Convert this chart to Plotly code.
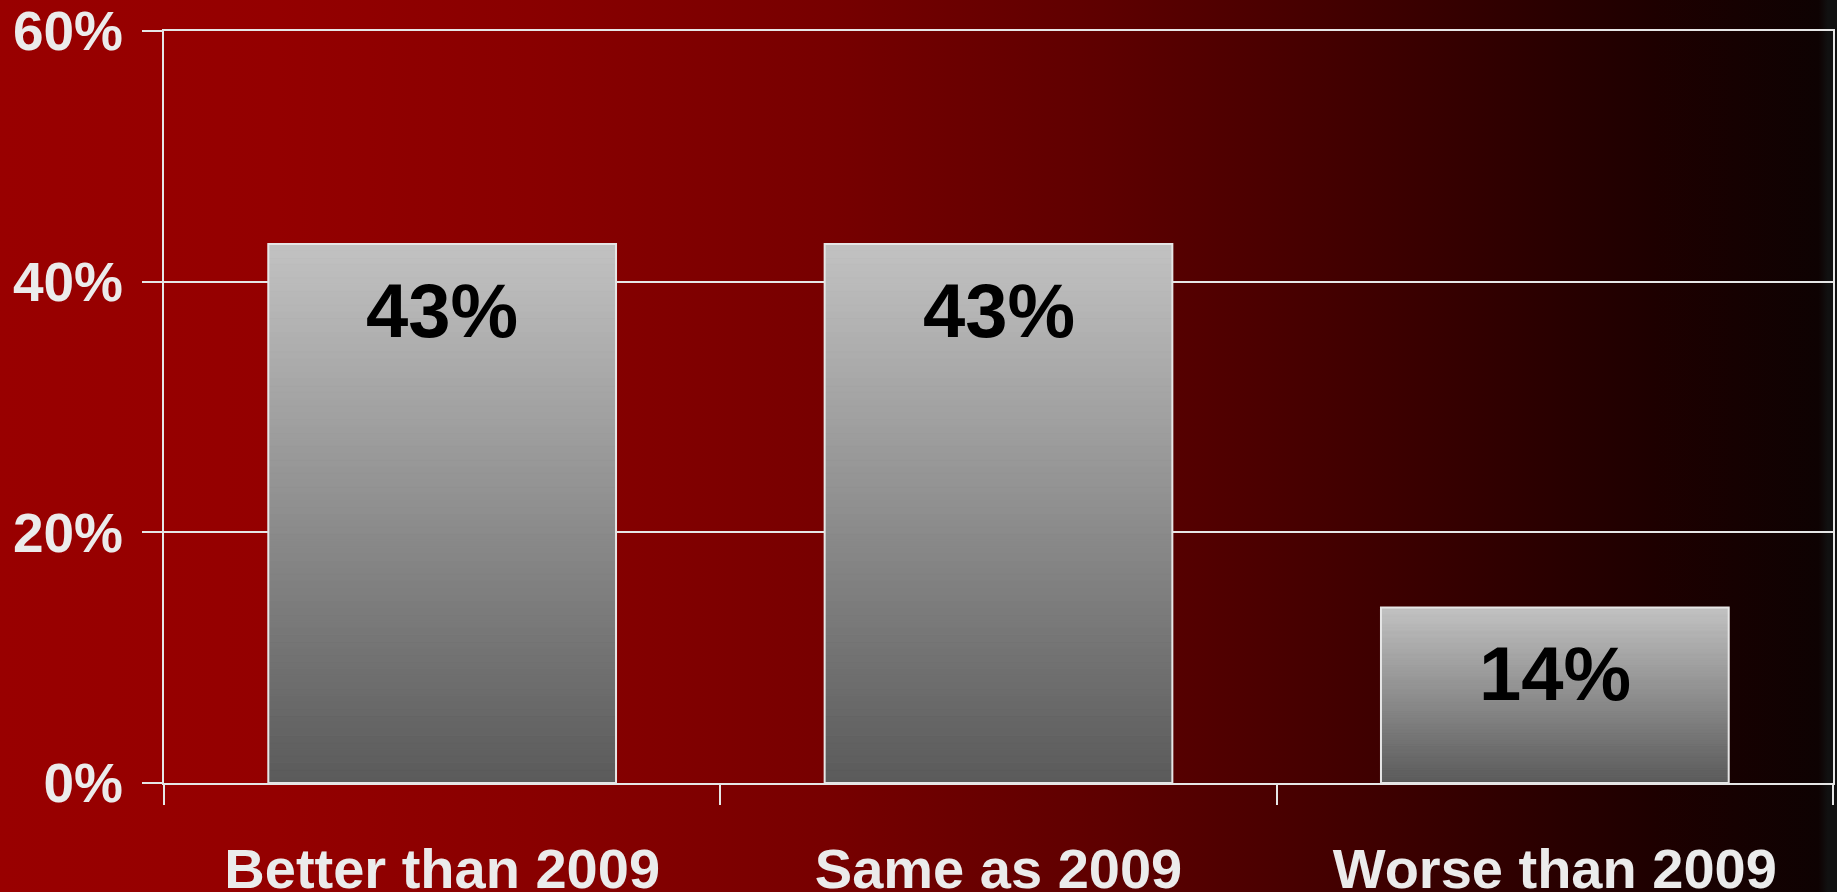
import base64
import plotly.graph_objects as go

# ---- data ----
categories = ["Better than 2009", "Same as 2009", "Worse than 2009"]
values = [43, 43, 14]
y_tickvals = [0, 20, 40, 60]
y_ticktext = ["0%", "20%", "40%", "60%"]

# ---- layout constants ----
W, H = 1837, 892
ML, MR, MT, MB = 164, 4, 31, 109
PW, PH = W - ML - MR, H - MT - MB
FONT = "Liberation Sans, Arial, sans-serif"
LIGHT = "#e6e6e6"

# background gradient (SVG data URI)
stops = [(0.0, "#990000"), (0.15, "#940000"), (0.30, "#880000"), (0.45, "#770000"),
         (0.60, "#5e0000"), (0.75, "#3e0000"), (0.90, "#1e0000"), (0.99, "#0e0202"),
         (0.995, "#111111"), (1.0, "#111111")]
stop_svg = "".join(f'<stop offset="{o}" stop-color="{c}"/>' for o, c in stops)
svg = (f'<svg xmlns="http://www.w3.org/2000/svg" width="{W}" height="{H}" preserveAspectRatio="none">'
       f'<defs><linearGradient id="g" x1="0" y1="0" x2="1" y2="0">{stop_svg}</linearGradient></defs>'
       f'<rect width="{W}" height="{H}" fill="url(#g)"/></svg>')
bg_uri = "data:image/svg+xml;base64," + base64.b64encode(svg.encode()).decode()

# bar gradient: split each bar into thin stacked segments (bottom dark -> top light)
N = 80
dark = (0x5a, 0x5a, 0x5a)
light = (0xc2, 0xc2, 0xc2)
seg_x, seg_y, seg_base, seg_col = [], [], [], []
for k in range(N):
    t = (k + 0.5) / N
    c = tuple(round(d + (l - d) * t) for d, l in zip(dark, light))
    for cat, v in zip(categories, values):
        seg_x.append(cat)
        seg_y.append(v / N)
        seg_base.append(v * k / N)
        seg_col.append(f"rgb{c}")

fig = go.Figure()
# solid underlay so seams between segments never show the background
fig.add_trace(go.Bar(x=categories, y=values, width=0.625,
                     marker=dict(color="#8e8e8e", line=dict(width=0)),
                     hoverinfo="skip", showlegend=False))
fig.add_trace(go.Bar(x=seg_x, y=seg_y, base=seg_base, width=0.625,
                     marker=dict(color=seg_col, line=dict(width=0.8, color=seg_col)),
                     hoverinfo="skip", showlegend=False))
fig.add_trace(go.Bar(x=categories, y=values, width=0.625,
                     marker=dict(color="rgba(0,0,0,0)", line=dict(color=LIGHT, width=2)),
                     showlegend=False))

for cat, v in zip(categories, values):
    fig.add_annotation(x=cat, y=v, xref="x", yref="y", text=f"{v}%", showarrow=False,
                       yanchor="middle", yshift=-66,
                       font=dict(family=FONT, size=76, color="#000000", weight="bold"))

fig.add_layout_image(dict(source=bg_uri, xref="paper", yref="paper",
                          x=-ML / PW, y=1 + MT / PH, sizex=W / PW, sizey=H / PH,
                          xanchor="left", yanchor="top", sizing="stretch", layer="below"))

fig.update_layout(
    width=W, height=H,
    margin=dict(l=ML, r=MR, t=MT, b=MB, pad=0, autoexpand=False),
    paper_bgcolor="rgba(0,0,0,0)", plot_bgcolor="rgba(0,0,0,0)",
    barmode="overlay",
    font=dict(family=FONT, color="#ebebeb"),
    xaxis=dict(type="category", categoryorder="array", categoryarray=categories,
               automargin=False,
               showline=True, linecolor=LIGHT, linewidth=2, mirror=True,
               ticks="outside", tickson="boundaries", ticklen=20, tickwidth=2, tickcolor=LIGHT,
               showgrid=False, zeroline=False,
               tickfont=dict(family=FONT, size=56, color="#ebebeb", weight="bold"),
               ticklabelstandoff=36),
    yaxis=dict(range=[0, 60], tickvals=y_tickvals, ticktext=y_ticktext,
               automargin=False,
               showline=True, linecolor=LIGHT, linewidth=2, mirror=True,
               ticks="outside", ticklen=20, tickwidth=2, tickcolor=LIGHT,
               showgrid=True, gridcolor=LIGHT, gridwidth=2, zeroline=False,
               tickfont=dict(family=FONT, size=55, color="#ebebeb", weight="bold"),
               ticklabelstandoff=8),
)

fig.write_html("out.html", config={"displayModeBar": False},
               post_script="document.body.style.margin='0';document.body.style.overflow='hidden';")
